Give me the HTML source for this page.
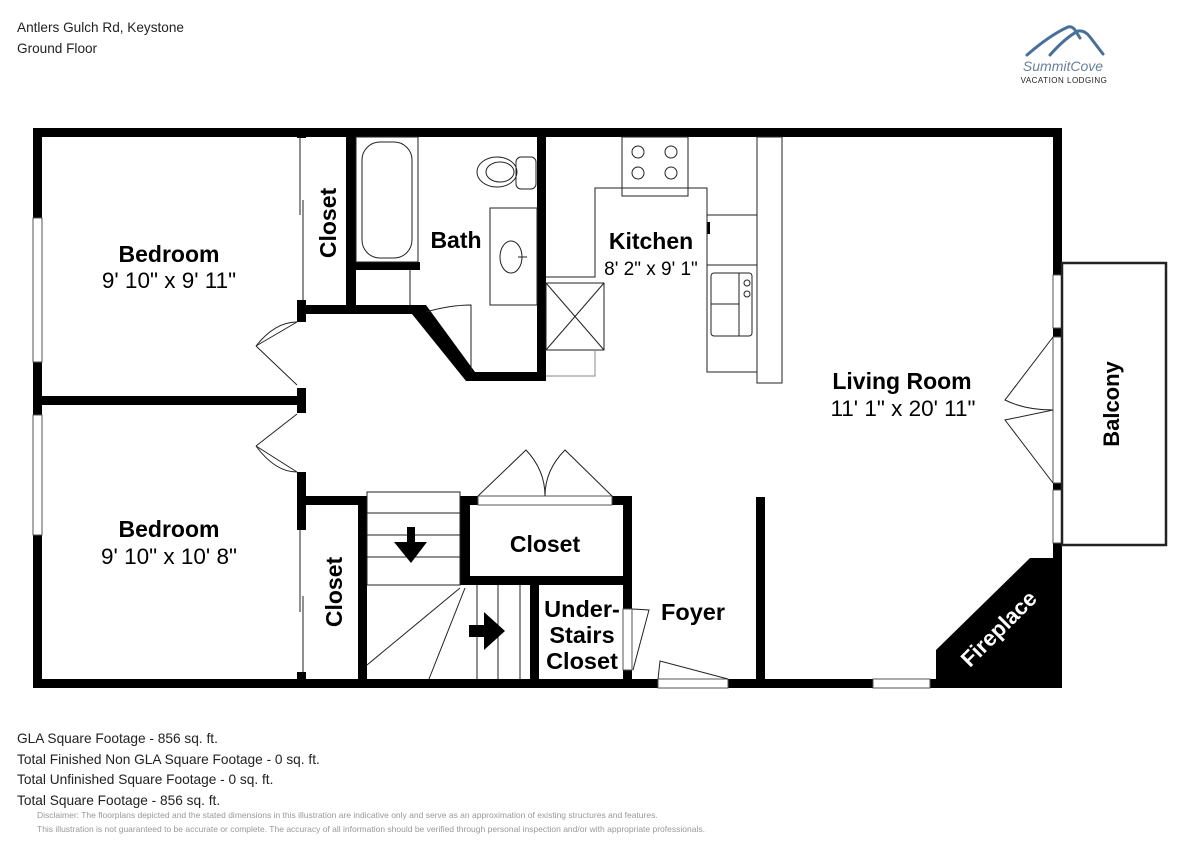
<!DOCTYPE html>
<html><head><meta charset="utf-8"><style>
html,body{margin:0;padding:0;background:#fff;}
svg{display:block;}
text{font-family:"Liberation Sans",Arial,sans-serif;}
</style></head><body>
<svg width="1200" height="849" viewBox="0 0 1200 849" xmlns="http://www.w3.org/2000/svg">
<rect width="1200" height="849" fill="#fff"/>
<text x="17" y="32" font-size="13.6" fill="#222">Antlers Gulch Rd, Keystone</text>
<text x="17" y="53" font-size="13.6" fill="#222">Ground Floor</text>
<!-- logo -->
<g fill="none" stroke="#4a6f9a" stroke-width="3" stroke-linecap="round">
<path d="M1027 55 Q1050 35 1068 27 Q1072 26 1075 30 L1080 38"/>
<path d="M1050 55 Q1065 38 1078 31 Q1085 30 1090 37 L1103 54"/>
</g>
<text x="1063" y="71" font-size="14" text-anchor="middle" fill="#6b7f99" font-style="italic" font-family="Liberation Serif,serif">SummitCove</text>
<text x="1064" y="83" font-size="8" text-anchor="middle" fill="#222" font-family="Liberation Serif,serif" letter-spacing="0.5">VACATION LODGING</text>

<g fill="#000">
<rect x="33" y="128" width="1029" height="9"/>
<rect x="33" y="679" width="1029" height="9"/>
<rect x="33" y="128" width="9" height="560"/>
<rect x="1053" y="128" width="9" height="435"/>
<rect x="33" y="396" width="273" height="9"/>
<rect x="297" y="128" width="9" height="10"/>
<rect x="297" y="300" width="9" height="22"/>
<rect x="297" y="388" width="9" height="25"/>
<rect x="297" y="472" width="9" height="58"/>
<rect x="297" y="672" width="9" height="16"/>
<rect x="346" y="137" width="10" height="175"/>
<rect x="306" y="305" width="112" height="9"/>
<polygon points="412,305 426,305 475,372 475,381 466,381 412,314"/>
<rect x="466" y="372" width="80" height="9"/>
<rect x="537" y="137" width="9" height="244"/>
<rect x="356" y="262" width="64" height="8"/>
<rect x="306" y="496" width="61" height="9"/>
<rect x="358" y="496" width="9" height="192"/>
<rect x="460" y="496" width="18" height="9"/>
<rect x="612" y="496" width="20" height="9"/>
<rect x="460" y="496" width="10" height="89"/>
<rect x="460" y="576" width="172" height="9"/>
<rect x="530" y="585" width="9" height="103"/>
<rect x="623" y="496" width="9" height="113"/>
<rect x="623" y="670" width="9" height="18"/>
<rect x="756" y="497" width="9" height="191"/>
<polygon points="1062,558 1030,558 936,650 936,688 1062,688"/>
<rect x="707" y="222" width="3" height="12"/>
</g>
<g fill="#fff" stroke="#555" stroke-width="1">
<rect x="33" y="218" width="9" height="144"/>
<rect x="33" y="415" width="9" height="120"/>
<rect x="1053" y="275" width="9" height="53"/>
<rect x="1053" y="337" width="9" height="146"/>
<rect x="1053" y="490" width="9" height="53"/>
<rect x="873" y="679" width="57" height="9"/>
<rect x="658" y="679" width="70" height="9"/>
<rect x="478" y="496" width="134" height="9"/>
<rect x="623" y="609" width="9" height="61"/>
</g>
<g fill="none" stroke="#222" stroke-width="1">
<line x1="300" y1="138" x2="300" y2="215"/><line x1="303" y1="200" x2="303" y2="300"/>
<line x1="300" y1="530" x2="300" y2="612"/><line x1="303" y1="596" x2="303" y2="672"/>
<path d="M297 322 L256 346 M297 385 L256 346"/>
<path d="M297 322 Q275 322 256 346"/>
<path d="M297 414 L256 446 M297 472 L256 446"/>
<path d="M297 472 Q275 472 256 446"/>
<path d="M1053 337 L1005 400 Q1025 410 1053 410 L1005 420 L1053 483"/>
<path d="M478 496 L526 450 Q545 470 545 496 Q545 470 565 450 L612 496"/>
<path d="M426 312 Q450 305 471 305 L471 372"/>
<path d="M632 609 L649 610 L633 670"/>
<path d="M658 679 L660 661 L728 679"/>
<rect x="356" y="137" width="62" height="125"/>
<rect x="362" y="142" width="50" height="116" rx="18"/>
<line x1="410" y1="270" x2="410" y2="305"/>
<ellipse cx="497" cy="172" rx="20" ry="15"/>
<ellipse cx="500" cy="172" rx="14" ry="10"/>
<rect x="516" y="157" width="20" height="32" rx="5"/>
<rect x="490" y="208" width="47" height="97"/>
<ellipse cx="511" cy="257" rx="11" ry="16"/>
<line x1="518" y1="257" x2="527" y2="257"/>
<rect x="622" y="137" width="66" height="59"/>
<circle cx="638" cy="152" r="6"/><circle cx="671" cy="152" r="6"/>
<circle cx="638" cy="173" r="6"/><circle cx="671" cy="173" r="6"/>
<polyline points="546,277 595,277 595,188 707,188 707,372 757,372"/>
<line x1="707" y1="215" x2="757" y2="215"/>
<line x1="707" y1="265" x2="757" y2="265"/>
<rect x="757" y="137" width="25" height="246"/>
<rect x="711" y="273" width="41" height="63" rx="3"/>
<line x1="711" y1="304" x2="739" y2="304"/>
<line x1="739" y1="273" x2="739" y2="336"/>
<circle cx="747" cy="283" r="3"/><circle cx="747" cy="294" r="3"/>
<rect x="546" y="283" width="58" height="67"/>
<line x1="546" y1="283" x2="604" y2="350"/><line x1="604" y1="283" x2="546" y2="350"/>
<polyline points="595,350 595,376 546,376" stroke="#888"/>
<rect x="1062" y="263" width="104" height="282" stroke-width="2.5"/>
<rect x="367" y="492" width="93" height="93"/>
<line x1="367" y1="513" x2="460" y2="513"/>
<line x1="367" y1="535" x2="460" y2="535"/>
<line x1="367" y1="557" x2="460" y2="557"/>
<line x1="460" y1="588" x2="367" y2="665"/>
<line x1="465" y1="588" x2="429" y2="679"/>
<line x1="477" y1="585" x2="477" y2="679"/>
<line x1="498" y1="585" x2="498" y2="679"/>
<line x1="520" y1="585" x2="520" y2="679"/>
</g>
<g fill="#000">
<polygon points="407,527 415,527 415,542 427,542 411,563 394,542 407,542"/>
<polygon points="469,625 484,625 484,612 505,631 484,650 484,637 469,637"/>
</g>
<g font-weight="bold" font-size="23" text-anchor="middle" fill="#000">
<text x="169" y="262">Bedroom</text>
<text x="169" y="537">Bedroom</text>
<text x="456" y="248">Bath</text>
<text x="651" y="249">Kitchen</text>
<text x="902" y="389">Living Room</text>
<text x="545" y="552">Closet</text>
<text x="582" y="617" font-size="23.5">Under-</text>
<text x="582" y="643" font-size="23.5">Stairs</text>
<text x="582" y="669" font-size="23.5">Closet</text>
<text x="693" y="620" font-size="23.5">Foyer</text>
<text transform="translate(336,223) rotate(-90)">Closet</text>
<text transform="translate(342,592) rotate(-90)">Closet</text>
<text transform="translate(1119,404) rotate(-90)" font-size="22">Balcony</text>
<text transform="translate(1004,634) rotate(-45)" fill="#fff" font-size="22">Fireplace</text>
</g>
<g font-size="22.5" text-anchor="middle" fill="#000">
<text x="169" y="288">9' 10" x 9' 11"</text>
<text x="169" y="564">9' 10" x 10' 8"</text>
<text x="651" y="275" font-size="19">8' 2" x 9' 1"</text>
<text x="903" y="416">11' 1" x 20' 11"</text>
</g>
<g font-size="13.7" fill="#222">
<text x="17" y="743">GLA Square Footage - 856 sq. ft.</text>
<text x="17" y="764">Total Finished Non GLA Square Footage - 0 sq. ft.</text>
<text x="17" y="784">Total Unfinished Square Footage - 0 sq. ft.</text>
<text x="17" y="805">Total Square Footage - 856 sq. ft.</text>
</g>
<g font-size="8.5" fill="#999">
<text x="37" y="818">Disclaimer: The floorplans depicted and the stated dimensions in this illustration are indicative only and serve as an approximation of existing structures and features.</text>
<text x="37" y="832">This illustration is not guaranteed to be accurate or complete. The accuracy of all information should be verified through personal inspection and/or with appropriate professionals.</text>
</g>
</svg>
</body></html>
